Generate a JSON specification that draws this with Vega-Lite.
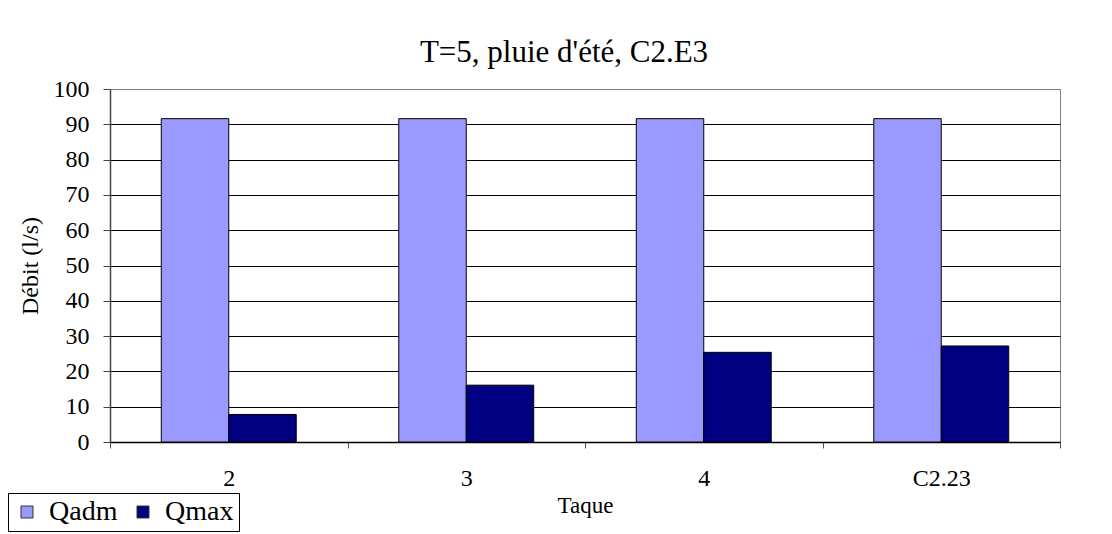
{
  "$schema": "https://vega.github.io/schema/vega-lite/v6.json",
  "width": 950,
  "height": 353,
  "autosize": {"type": "none"},
  "padding": {"left": 110, "top": 89, "right": 52, "bottom": 92},
  "background": "white",
  "title": {
    "text": "T=5, pluie d'été, C2.E3",
    "font": "Liberation Serif",
    "fontSize": 31,
    "fontWeight": "normal",
    "color": "#000000",
    "anchor": "middle",
    "frame": "group",
    "baseline": "alphabetic",
    "offset": -16,
    "dx": -21
  },
  "data": {
    "values": [
      {"taque": "2", "serie": "Qadm", "debit": 91.6},
      {"taque": "2", "serie": "Qmax", "debit": 7.8},
      {"taque": "3", "serie": "Qadm", "debit": 91.6},
      {"taque": "3", "serie": "Qmax", "debit": 16.1},
      {"taque": "4", "serie": "Qadm", "debit": 91.6},
      {"taque": "4", "serie": "Qmax", "debit": 25.4},
      {"taque": "C2.23", "serie": "Qadm", "debit": 91.6},
      {"taque": "C2.23", "serie": "Qmax", "debit": 27.2}
    ]
  },
  "mark": {"type": "bar", "stroke": "#000000", "strokeWidth": 1},
  "encoding": {
    "x": {
      "field": "taque",
      "type": "nominal",
      "sort": ["2", "3", "4", "C2.23"],
      "scale": {"paddingInner": 0, "paddingOuter": 0},
      "axis": {
        "title": "Taque",
        "labelAngle": 0,
        "tickBand": "extent",
        "tickSize": 6,
        "tickColor": "#555555",
        "domainColor": "#000000",
        "labelPadding": 18,
        "labelFontSize": 24,
        "titleFontSize": 23,
        "titlePadding": 4,
        "grid": false
      }
    },
    "xOffset": {
      "field": "serie",
      "type": "nominal",
      "sort": ["Qadm", "Qmax"],
      "scale": {"paddingInner": 0, "paddingOuter": 0.76}
    },
    "y": {
      "field": "debit",
      "type": "quantitative",
      "scale": {"domain": [0, 100], "nice": false},
      "axis": {
        "title": "Débit (l/s)",
        "values": [0, 10, 20, 30, 40, 50, 60, 70, 80, 90, 100],
        "grid": true,
        "gridColor": {"condition": {"test": "datum.value == 100", "value": "#808080"}, "value": "#000000"},
        "gridWidth": 1,
        "tickSize": 7,
        "tickColor": "#444444",
        "domainColor": "#444444",
        "labelPadding": 14,
        "labelFontSize": 24,
        "titleFontSize": 24,
        "titlePadding": 11
      }
    },
    "color": {
      "field": "serie",
      "type": "nominal",
      "scale": {"domain": ["Qadm", "Qmax"], "range": ["#9999FF", "#000080"]},
      "legend": {
        "title": null,
        "orient": "none",
        "legendX": -102,
        "legendY": 404,
        "direction": "horizontal",
        "strokeColor": "#000000",
        "fillColor": "#ffffff",
        "padding": 5,
        "symbolType": "square",
        "symbolSize": 144,
        "symbolStrokeColor": "#333333",
        "symbolStrokeWidth": 1,
        "labelFont": "Liberation Serif",
        "labelFontSize": 28,
        "labelColor": "#000000",
        "labelOffset": 8,
        "columnPadding": 11
      }
    }
  },
  "config": {
    "view": {"stroke": "#808080", "strokeWidth": 1},
    "axis": {
      "labelFont": "Liberation Serif",
      "titleFont": "Liberation Serif",
      "labelColor": "#000000",
      "titleColor": "#000000",
      "titleFontWeight": "normal",
      "domainWidth": 1.5
    }
  }
}
